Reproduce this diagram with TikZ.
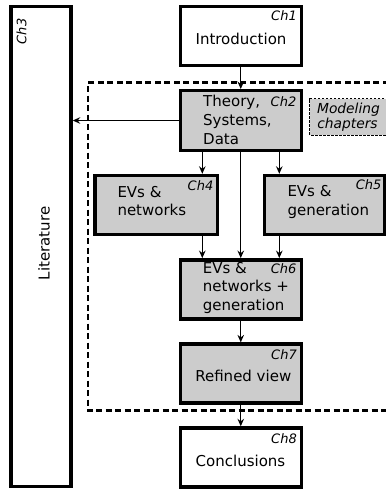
\documentclass[tikz,border=0pt]{standalone}
\usepackage{fontspec}
\setmainfont{DejaVu Sans}
\usetikzlibrary{arrows.meta}
\definecolor{boxgray}{RGB}{204,204,204}
\tikzset{
  chbox/.style={draw, line width=3.4pt, inner sep=0pt, minimum width=121pt, minimum height=59pt},
  graybox/.style={chbox, fill=boxgray},
  txt/.style={inner sep=0pt, font=\fontsize{15}{18}\selectfont},
  chl/.style={inner sep=0pt, font=\fontsize{13}{15}\selectfont\itshape, anchor=base east},
  conn/.style={line width=1.3pt, -{Stealth[length=7.5pt,width=6.5pt,inset=2.5pt]}},
  modframe/.style={draw, line width=2.7pt, dash pattern=on 6pt off 3.5pt},
  modlabel/.style={draw, fill=boxgray, line width=1pt, dash pattern=on 2.5pt off 1.5pt}
}
\begin{document}
\begin{tikzpicture}[x=1pt,y=-1pt]
\useasboundingbox (0,0) rectangle (386,491);
\clip (0,0) rectangle (386,491);
% modeling frame
\draw[modframe] (398,82.7) -- (88,82.7) -- (88,410.7) -- (398,410.7);
\draw[modlabel] (392,98.5) -- (309.8,98.5) -- (309.8,135) -- (392,135) -- cycle;
\node[txt, font=\fontsize{13.8}{16}\selectfont\itshape, anchor=base] (mod1) at (348.5,113.3) {Modeling};
\node[txt, font=\fontsize{13.8}{16}\selectfont\itshape, anchor=base] (mod2) at (347.5,128.7) {chapters};
% boxes
\node[chbox, minimum width=60pt, minimum height=480pt] (lit) at (41,246.7) {};
\node[chbox] (intro) at (240.75,36) {};
\node[graybox, minimum height=59.6pt] (ch2) at (240.75,120.5) {};
\node[graybox, minimum width=122.6pt] (ch4) at (156.3,205) {};
\node[graybox, minimum width=120pt] (ch5) at (324.3,205) {};
\node[graybox] (ch6) at (240.75,289.3) {};
\node[graybox] (ch7) at (240.75,373.6) {};
\node[chbox] (ch8) at (240.75,457.5) {};
% texts
\node[txt, rotate=90, anchor=base] (littxt) at (49.5,243.5) {Literature};
\node[chl, rotate=90] (lch) at (26.5,18.3) {Ch3};
\node[txt, anchor=base] (introtxt) at (241,44.3) {Introduction};
\node[chl] (introch) at (297,20.7) {Ch1};
\node[txt, anchor=base west] (t2a) at (203,106) {Theory,};
\node[txt, anchor=base west] (t2b) at (203,125) {Systems,};
\node[txt, anchor=base west] (t2c) at (203,144) {Data};
\node[chl] (c2) at (296.5,106) {Ch2};
\node[txt, anchor=base west] (t4a) at (117.3,197.3) {EVs \&};
\node[txt, anchor=base west] (t4b) at (117.3,215.7) {networks};
\node[chl] (c4) at (213.5,190) {Ch4};
\node[txt, anchor=base west] (t5a) at (287.3,196.7) {EVs \&};
\node[txt, anchor=base west] (t5b) at (287.3,215.2) {generation};
\node[chl] (c5) at (381.7,189.5) {Ch5};
\node[txt, anchor=base west] (t6a) at (202.7,273.3) {EVs \&};
\node[txt, anchor=base west] (t6b) at (202.7,291.7) {networks +};
\node[txt, anchor=base west] (t6c) at (202.7,310.2) {generation};
\node[chl] (c6) at (296.7,273.3) {Ch6};
\node[txt, anchor=base] (t7) at (243.3,381.5) {Refined view};
\node[chl] (c7) at (297,359) {Ch7};
\node[txt, anchor=base] (t8) at (240.5,466) {Conclusions};
\node[chl] (c8) at (297,443.3) {Ch8};
% connectors
\coordinate (xa) at (202.3,0);
\coordinate (xb) at (279.3,0);
\draw[conn] (intro.south) -- (ch2.north);
\draw[conn] (ch2.west) -- (ch2.west -| lit.east);
\draw[conn] (ch2.south -| xa) -- (ch4.north -| xa);
\draw[conn] (ch2.south -| xb) -- (ch5.north -| xb);
\draw[conn] (ch2.south) -- (ch6.north);
\draw[conn] (ch4.south -| xa) -- (ch6.north -| xa);
\draw[conn] (ch5.south -| xb) -- (ch6.north -| xb);
\draw[conn] (ch6.south) -- (ch7.north);
\draw[conn] (ch7.south) -- (ch8.north);
\end{tikzpicture}
\end{document}
